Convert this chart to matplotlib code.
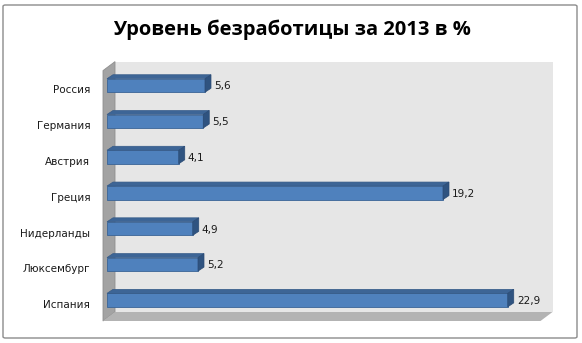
import matplotlib
matplotlib.use("Agg")
import matplotlib.pyplot as plt
from matplotlib.patches import Polygon, FancyBboxPatch
from matplotlib.transforms import Affine2D, IdentityTransform

categories = ["Россия", "Германия", "Австрия", "Греция", "Нидерланды", "Люксембург", "Испания"]
values = [5.6, 5.5, 4.1, 19.2, 4.9, 5.2, 22.9]
value_labels = ["5,6", "5,5", "4,1", "19,2", "4,9", "5,2", "22,9"]
title = "Уровень безработицы за 2013 в %"

W, H = 582, 343
fig = plt.figure(figsize=(W / 100, H / 100), dpi=100)
fig.patch.set_facecolor("white")

# outer chart border
fig.patches.append(FancyBboxPatch((3 / W, 5 / H), 574 / W, 333 / H,
                                  boxstyle="round,pad=0,rounding_size=0.004",
                                  transform=fig.transFigure, fill=False,
                                  edgecolor="#8c8c8c", linewidth=1.0))

ax = fig.add_axes([107 / W, (H - 318) / H, 437.5 / W, (318 - 67.6) / H])
n = len(categories)
ypos = list(range(n - 1, -1, -1))
ax.set_xlim(0, 25)
ax.set_ylim(-0.5, n - 0.5)
ax.set_facecolor("none")
for s in ax.spines.values():
    s.set_visible(False)
ax.set_xticks([])
ax.set_yticks(ypos)
ax.set_yticklabels(categories, fontsize=7.5, color="#1a1a1a")
ax.tick_params(axis="y", length=0, pad=12)
for lab in ax.get_yticklabels():
    lab.set_transform(lab.get_transform() + Affine2D().translate(0, -4))

def shifted(dx, dy):
    return ax.transData + Affine2D().translate(dx, dy)

x0, x1 = ax.get_xlim()
y0, y1 = ax.get_ylim()
# back wall
back = Polygon([(x0, y0), (x1, y0), (x1, y1), (x0, y1)], closed=True,
               transform=shifted(8, 6), facecolor="#e6e6e6", edgecolor="none",
               clip_on=False, zorder=0)
ax.add_patch(back)

# left wall (parallelogram between front and back planes), in display pixels
p0 = ax.transData.transform((x0, y0)); p1 = ax.transData.transform((x0, y1))
lw_pts = [(p0[0] - 4, p0[1] - 3), (p1[0] - 4, p1[1] - 3), (p1[0] + 8, p1[1] + 6), (p0[0] + 8, p0[1] + 6)]
ax.add_patch(Polygon(lw_pts, closed=True, transform=IdentityTransform(),
                     facecolor="#a3a3a3", edgecolor="#8f8f8f", linewidth=0.6,
                     zorder=1, clip_on=False))
# floor
q1 = ax.transData.transform((x1, y0))
fl_pts = [(p0[0] - 4, p0[1] - 3), (q1[0] - 4, q1[1] - 3), (q1[0] + 8, q1[1] + 6), (p0[0] + 8, p0[1] + 6)]
ax.add_patch(Polygon(fl_pts, closed=True, transform=IdentityTransform(),
                     facecolor="#b3b3b3", edgecolor="none", zorder=1, clip_on=False))

# bars
h = 13.5 / 35.75
bars = ax.barh(ypos, values, height=h, color="#4f81bd", edgecolor="#3a6496",
               linewidth=0.6, zorder=3)
px_x = ax.transData.transform((1, 0))[0] - ax.transData.transform((0, 0))[0]
px_y = ax.transData.transform((0, 1))[1] - ax.transData.transform((0, 0))[1]
ddx = 6 / px_x
ddy = 4 / px_y
for y, v in zip(ypos, values):
    top = [(0, y + h / 2), (v, y + h / 2), (v + ddx, y + h / 2 + ddy), (ddx, y + h / 2 + ddy)]
    side = [(v, y - h / 2), (v, y + h / 2), (v + ddx, y + h / 2 + ddy), (v + ddx, y - h / 2 + ddy)]
    ax.add_patch(Polygon(top, closed=True, facecolor="#3d6596", edgecolor="#355a88",
                         linewidth=0.5, zorder=3, clip_on=False))
    ax.add_patch(Polygon(side, closed=True, facecolor="#2f5380", edgecolor="#2a4a73",
                         linewidth=0.5, zorder=3, clip_on=False))

for y, v, lab in zip(ypos, values, value_labels):
    ax.annotate(lab, (v, y), xytext=(9, -1), textcoords="offset pixels",
                ha="left", va="center", fontsize=7.5, color="#1a1a1a",
                annotation_clip=False)

fig.text(292 / W, 1 - 30 / H, title, ha="center", va="center",
         fontsize=14.5, fontweight="bold", family=["Open Sans", "DejaVu Sans"])

fig.savefig("out.png", dpi=100)
